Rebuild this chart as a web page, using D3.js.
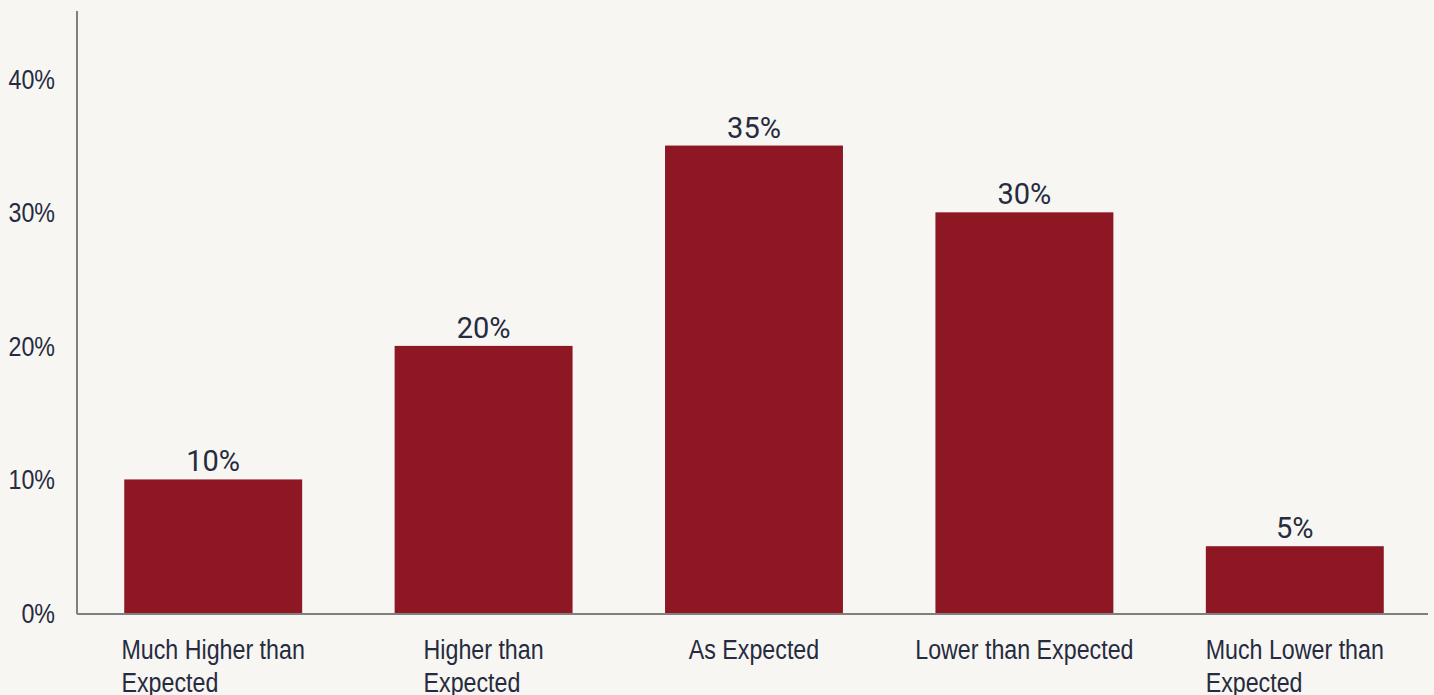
<!DOCTYPE html>
<html>
<head>
<meta charset="utf-8">
<script src="https://cdn.jsdelivr.net/npm/d3@7"></script>
<style>
  html, body { margin: 0; padding: 0; background: #f7f6f2; }
  svg { display: block; }
  text { font-family: "Liberation Sans", Arial, sans-serif; fill: #262b40; }
  text.value { font-family: Roboto, "Liberation Sans", sans-serif; }
</style>
</head>
<body>
<svg id="chart" width="1434" height="695"></svg>
<script>
// Survey responses: share of respondents per outcome
const categories = [
  ["Much Higher than", "Expected"],
  ["Higher than", "Expected"],
  ["As Expected"],
  ["Lower than Expected"],
  ["Much Lower than", "Expected"]
];
const values = [10, 20, 35, 30, 5];
const yTicks = [0, 10, 20, 30, 40];

const svg = d3.select("#chart");
const plot = { left: 77, right: 1430, top: 11, bottom: 613 };
const condense = 0.83; // horizontal squeeze for axis text

const x = d3.scaleBand()
  .domain(d3.range(categories.length))
  .range([plot.left + 1, plot.right])
  .paddingInner(0.342)
  .paddingOuter(0.171);

const y = d3.scaleLinear().domain([0, 45]).range([plot.bottom, plot.top + 1]);

// bars
svg.append("g").selectAll("rect")
  .data(values)
  .join("rect")
  .attr("x", (d, i) => x(i))
  .attr("y", d => y(d))
  .attr("width", x.bandwidth())
  .attr("height", d => y(0) - y(d))
  .attr("fill", "#8d1722");

// value labels
svg.append("g").selectAll("text")
  .data(values)
  .join("text")
  .attr("class", "value")
  .attr("x", (d, i) => x(i) + x.bandwidth() / 2)
  .attr("y", d => y(d) - 8)
  .attr("text-anchor", "middle")
  .attr("font-size", 29)
  .text(d => d + "%");

// y axis tick labels
svg.append("g").selectAll("text")
  .data(yTicks)
  .join("text")
  .attr("transform", d => `translate(55,${y(d)}) scale(${condense},1)`)
  .attr("dy", "0.35em")
  .attr("text-anchor", "end")
  .attr("font-size", 28)
  .text(d => d + "%");

// axis lines
svg.append("line")
  .attr("x1", plot.left).attr("x2", plot.left)
  .attr("y1", plot.top).attr("y2", plot.bottom + 1)
  .attr("stroke", "#7f7f7f").attr("stroke-width", 2);
svg.append("line")
  .attr("x1", plot.left).attr("x2", plot.right - 2)
  .attr("y1", plot.bottom + 1).attr("y2", plot.bottom + 1)
  .attr("stroke", "#7f7f7f").attr("stroke-width", 2);

// category labels: block centred under each bar, lines left-aligned
categories.forEach((lines, i) => {
  const g = svg.append("g");
  const t = g.append("text").attr("font-size", 28);
  lines.forEach((s, j) => {
    t.append("tspan").attr("x", 0).attr("y", 659 + j * 33).text(s);
  });
  const w = d3.max(t.selectAll("tspan").nodes(), n => n.getComputedTextLength()) * condense;
  const cx = x(i) + x.bandwidth() / 2;
  g.attr("transform", `translate(${cx - w / 2},0) scale(${condense},1)`);
});
</script>
</body>
</html>
